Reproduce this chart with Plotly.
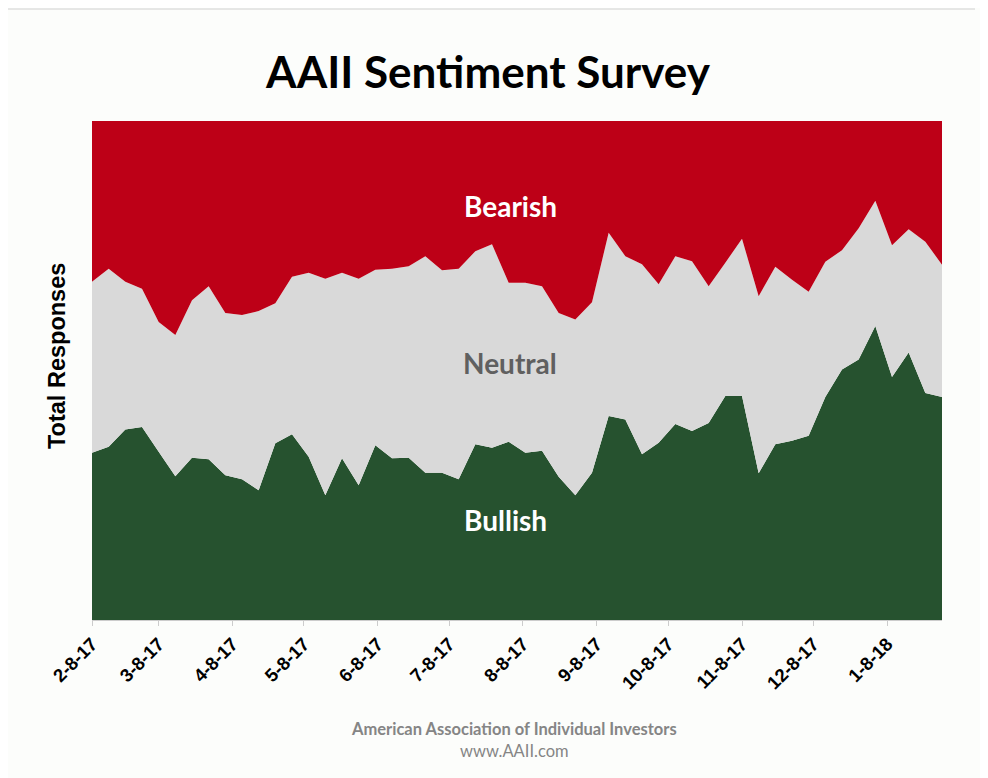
import pandas as pd
import plotly.graph_objects as go

start_date = "2017-02-08"
n_weeks = 52

bullish = [33.5, 34.7, 38.2, 38.7, 33.7, 28.8, 32.5, 32.2, 29.0, 28.2,
           26.0, 35.4, 37.2, 32.7, 25.0, 32.4, 27.0, 35.0, 32.4, 32.5,
           29.5, 29.5, 28.2, 35.2, 34.5, 35.7, 33.5, 33.9, 28.7, 25.0,
           29.5, 40.9, 40.2, 33.2, 35.5, 39.3, 37.9, 39.5, 44.9, 44.9,
           29.4, 35.2, 35.9, 36.9, 44.7, 50.2, 52.2, 58.9, 48.7, 53.6,
           45.5, 44.7]
neutral = [34.3, 35.7, 29.6, 27.7, 26.0, 28.3, 31.6, 34.7, 32.5, 32.9,
           35.9, 28.1, 31.6, 36.9, 43.4, 37.2, 41.4, 35.2, 38.0, 38.4,
           43.4, 40.6, 42.2, 38.7, 40.8, 31.9, 34.1, 33.0, 32.8, 35.2,
           34.2, 36.7, 32.7, 38.1, 31.8, 33.6, 34.0, 27.4, 26.7, 31.5,
           35.5, 35.6, 32.3, 28.9, 27.1, 23.9, 26.3, 25.1, 26.4, 24.7,
           30.3, 26.5]
bearish = [32.2, 29.6, 32.2, 33.6, 40.3, 42.9, 35.9, 33.1, 38.5, 38.9,
           38.1, 36.5, 31.2, 30.4, 31.6, 30.4, 31.6, 29.8, 29.6, 29.1,
           27.1, 29.9, 29.6, 26.1, 24.7, 32.4, 32.4, 33.1, 38.5, 39.8,
           36.3, 22.4, 27.1, 28.7, 32.7, 27.1, 28.1, 33.1, 28.4, 23.6,
           35.1, 29.2, 31.8, 34.2, 28.2, 25.9, 21.5, 16.0, 24.9, 21.7,
           24.2, 28.8]

tick_dates = ["2017-02-08", "2017-03-08", "2017-04-08", "2017-05-08", "2017-06-08",
              "2017-07-08", "2017-08-08", "2017-09-08", "2017-10-08", "2017-11-08",
              "2017-12-08", "2018-01-08"]
tick_labels = ["2-8-17", "3-8-17", "4-8-17", "5-8-17", "6-8-17", "7-8-17",
               "8-8-17", "9-8-17", "10-8-17", "11-8-17", "12-8-17", "1-8-18"]

dates = pd.date_range(start_date, periods=n_weeks, freq="7D")

W, H = 980, 770
L, T, R, B = 84, 113, 46, 158
PW, PH = W - L - R, H - T - B


def px_x(x):  # page x (browser) -> paper x
    return (x - 8 - L) / PW


def px_y(y):  # page y (browser) -> paper y
    return (H - B - (y - 8)) / PH


fig = go.Figure()
for name, vals, col in [("Bullish", bullish, "#26522f"),
                        ("Neutral", neutral, "#d9d9d9"),
                        ("Bearish", bearish, "#bd0017")]:
    fig.add_trace(go.Scatter(x=dates, y=vals, name=name, mode="lines",
                             stackgroup="one", groupnorm="percent",
                             line=dict(width=0, color=col), fillcolor=col,
                             hoverinfo="x+y+name"))

fig.update_layout(
    width=W, height=H, autosize=False,
    margin=dict(l=L, r=R, t=T, b=B),
    paper_bgcolor="#fcfdfb", plot_bgcolor="#fcfdfb",
    showlegend=False,
    title=dict(text="<b>AAII Sentiment Survey</b>", x=(488 - 8) / W, xanchor="center",
               y=1 - (73 - 8) / H, yanchor="middle", xref="container", yref="container",
               font=dict(family="Lato", size=44, color="#000000")),
    xaxis=dict(range=[dates[0], dates[-1]], tickvals=tick_dates, ticktext=tick_labels,
               tickangle=-45, ticks="outside", ticklen=5, tickcolor="#cccccc",
               showgrid=False, zeroline=False, showline=True, linecolor="#cccccc",
               tickfont=dict(family="Liberation Sans", size=18.5, color="#000000",
                             weight="bold"),
               ),
    yaxis=dict(range=[0, 100], showticklabels=False, showgrid=False, zeroline=False),
)

fig.add_shape(type="line", xref="paper", yref="paper", x0=px_x(0), x1=px_x(975),
              y0=px_y(9), y1=px_y(9), line=dict(color="#d0d0d0", width=1))

fig.add_annotation(text="<b>Total Responses</b>", x=px_x(57), y=px_y(356),
                   xref="paper", yref="paper", xanchor="center", yanchor="middle",
                   textangle=-90, showarrow=False,
                   font=dict(family="Liberation Sans", size=23.5, color="#000000"))

label_font = "Lato"
for text, x, y, col in [("<b>Bearish</b>", 510, 206, "#ffffff"),
                        ("<b>Neutral</b>", 510, 363, "#606060"),
                        ("<b>Bullish</b>", 505, 520, "#ffffff")]:
    fig.add_annotation(text=text, x=px_x(x), y=px_y(y), xref="paper", yref="paper",
                       xanchor="center", yanchor="middle", showarrow=False,
                       font=dict(family=label_font, size=28, color=col))

for text, y in [("<b>American Association of Individual Investors</b>", 729),
                ("www.AAII.com", 751)]:
    fig.add_annotation(text=text, x=px_x(514), y=px_y(y), xref="paper", yref="paper",
                       xanchor="center", yanchor="middle", showarrow=False,
                       font=dict(family="Lato", size=16.5, color="#858585"))

fig.write_html("out.html")
